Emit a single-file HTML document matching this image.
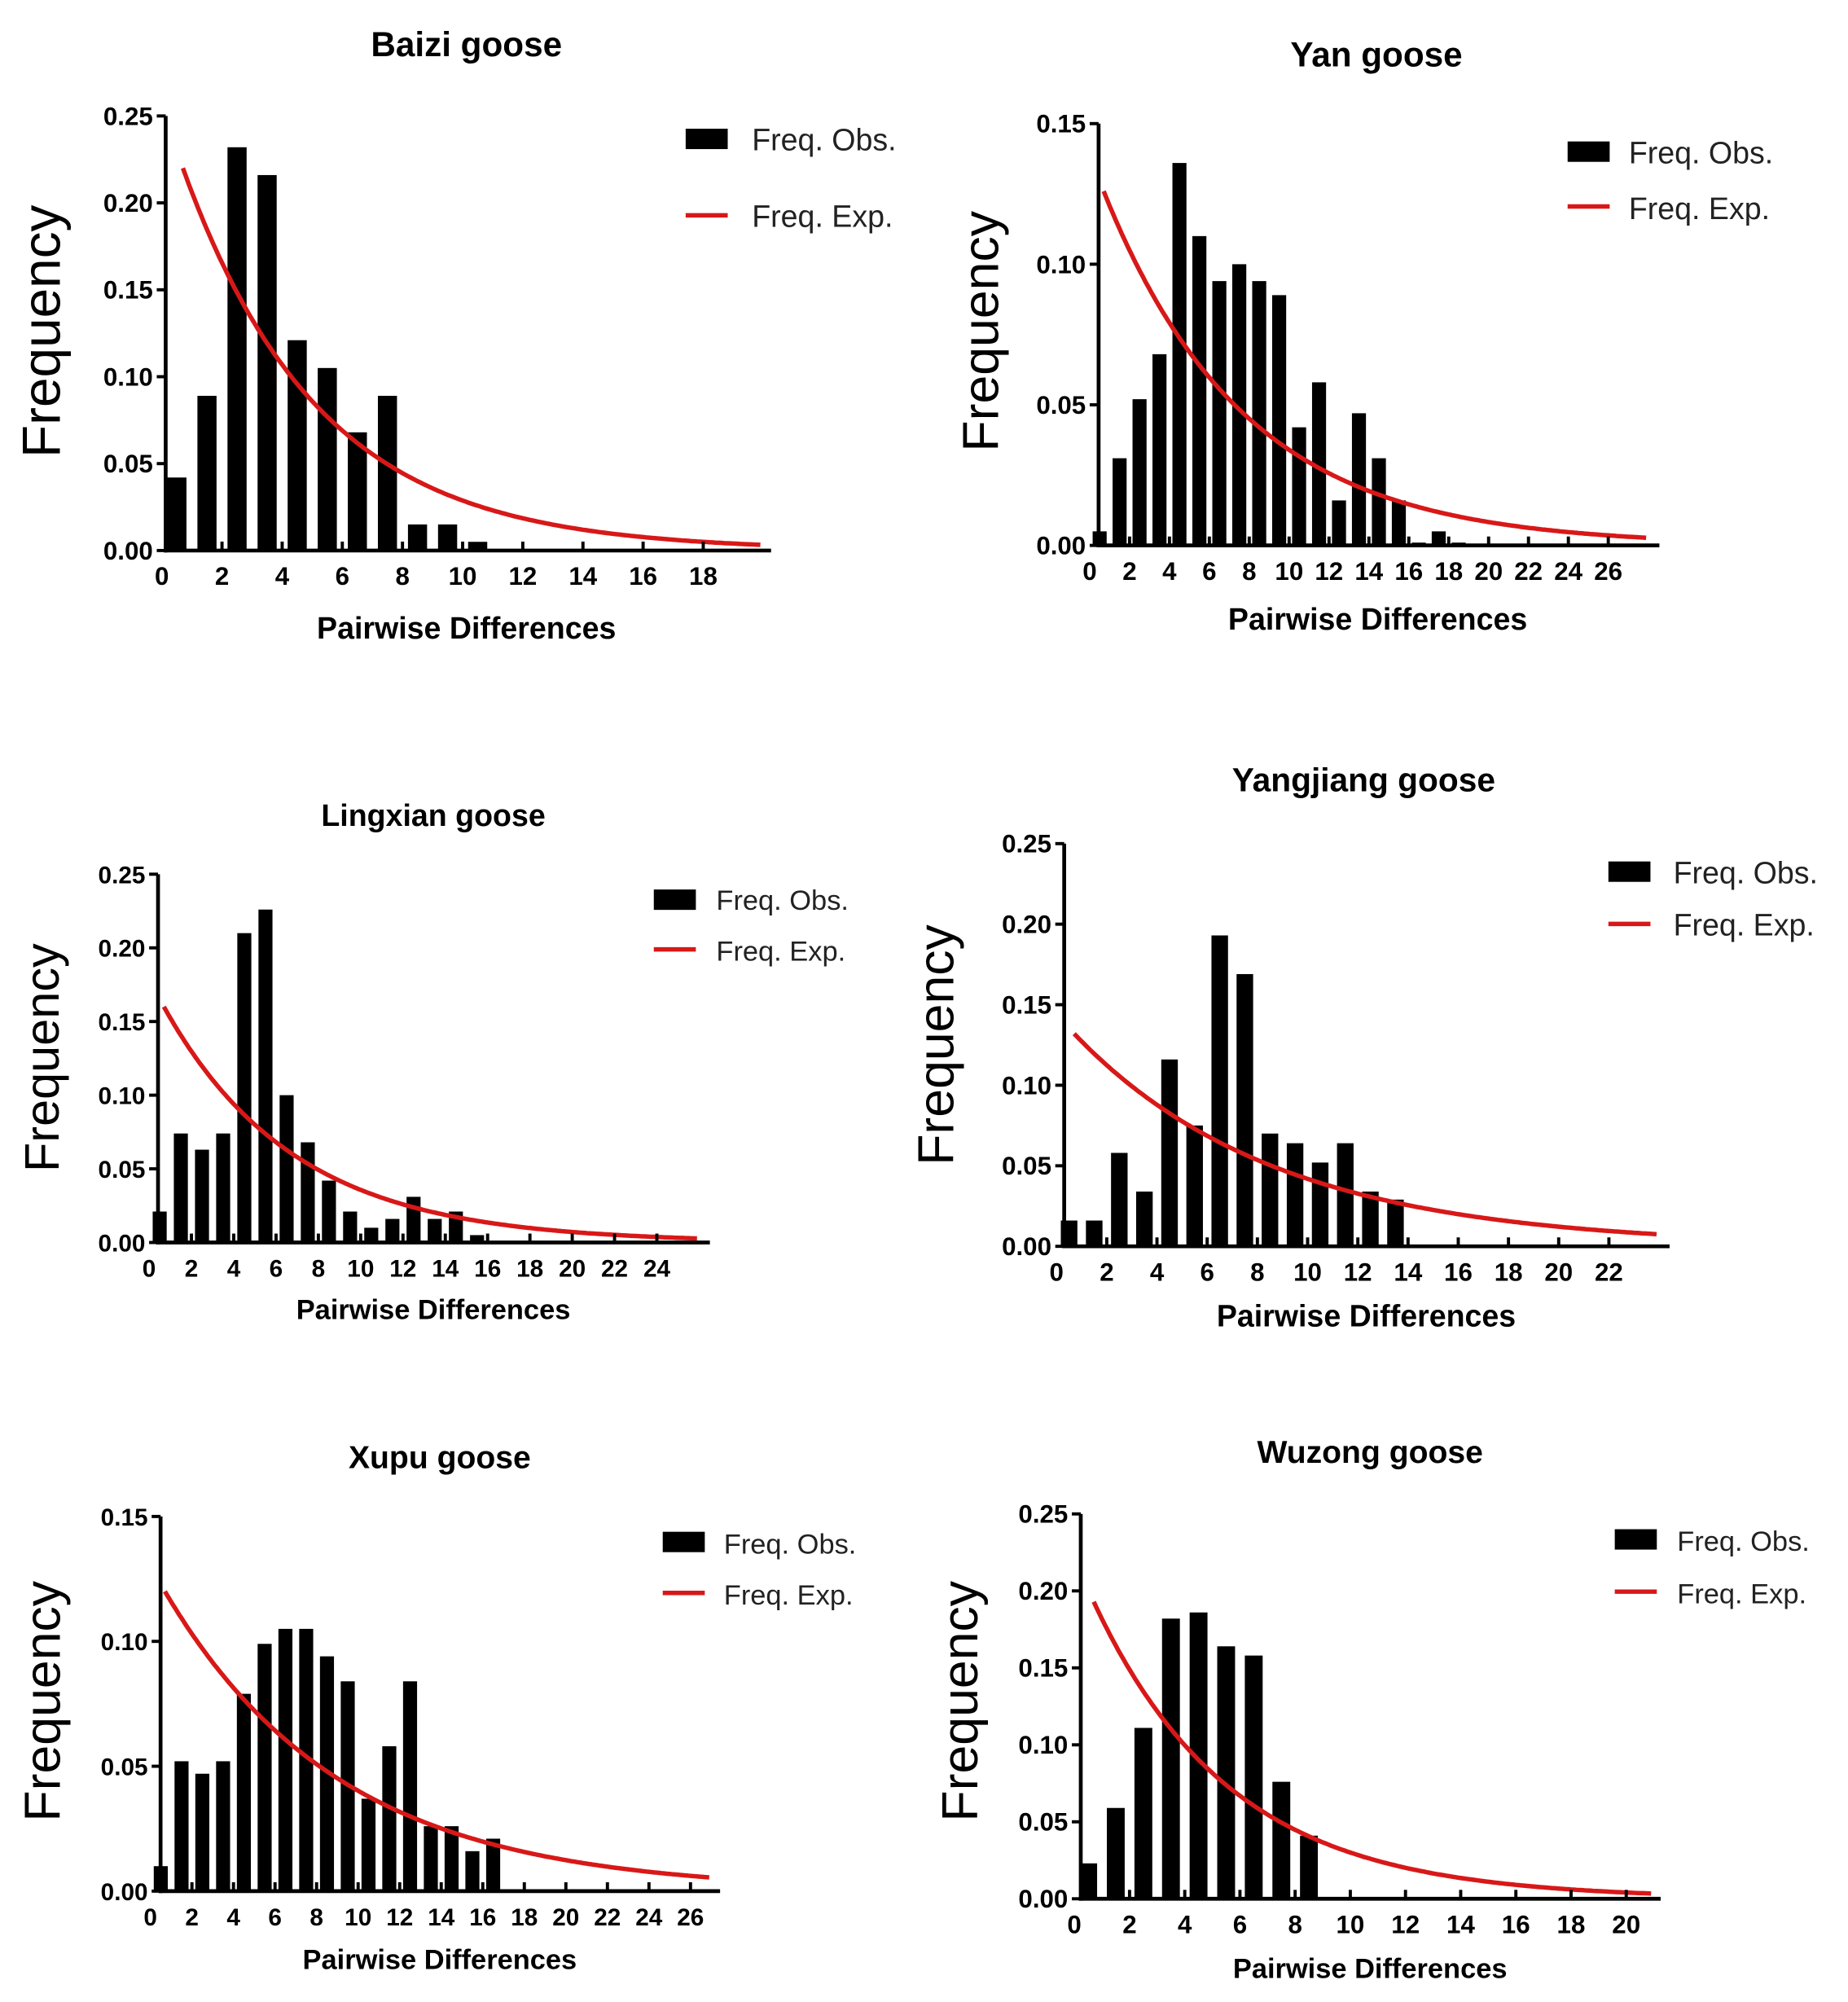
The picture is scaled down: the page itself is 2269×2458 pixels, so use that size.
<!DOCTYPE html>
<html><head><meta charset="utf-8"><style>
html,body{margin:0;padding:0;background:#fff;}
svg{display:block;}
text{font-family:"Liberation Sans",sans-serif;}
</style></head><body>
<svg id="s" width="2269" height="2458" viewBox="0 0 1450 1571" preserveAspectRatio="none" xmlns="http://www.w3.org/2000/svg"></svg>
<script>
const P=[
{title:"Baizi goose",tx:366,ty:44,tfs:27,ax:130,top:91,bot:432,xend:605,ymax:0.25,ystep:0.05,x0:127,unit:23.6,xmax:18,bw:15,
 bars:[.042,.089,.232,.216,.121,.105,.068,.089,.015,.015,.005],a:.22,t:4.57,cend:20,
 lb:[538,101],lt:590,ly1:118,ly2:169,lt2:178,lfs:24,fx:47,fy:260,ffs:42,xlx:366,xly:501,xlfs:24,tfs2:20},
{title:"Yan goose",tx:1080,ty:52,tfs:27,ax:862,top:97,bot:428,xend:1302,ymax:0.15,ystep:0.05,x0:855,unit:15.65,xmax:26,bw:11,
 bars:[.005,.031,.052,.068,.136,.110,.094,.100,.094,.089,.042,.058,.016,.047,.031,.016,.001,.005,.001],a:.126,t:7.1,cend:28,
 lb:[1230,111],lt:1278,ly1:128,ly2:162,lt2:172,lfs:24,fx:783,fy:260,ffs:40,xlx:1081,xly:494,xlfs:24,tfs2:20},
{title:"Lingxian goose",tx:340,ty:648,tfs:24,ax:124,top:686,bot:975,xend:557,ymax:0.25,ystep:0.05,x0:117,unit:16.6,xmax:24,bw:11,
 bars:[.021,.074,.063,.074,.210,.226,.100,.068,.042,.021,.010,.016,.031,.016,.021,.005],a:.16,t:6.2,cend:26,
 lb:[513,698],lt:562,ly1:714,ly2:745,lt2:754,lfs:22,fx:46,fy:830,ffs:38,xlx:340,xly:1035,xlfs:22,tfs2:19},
{title:"Yangjiang goose",tx:1070,ty:621,tfs:26,ax:835,top:662,bot:978,xend:1310,ymax:0.25,ystep:0.05,x0:829,unit:19.7,xmax:22,bw:13,
 bars:[.016,.016,.058,.034,.116,.075,.193,.169,.070,.064,.052,.064,.034,.029],a:.132,t:8.1,cend:24,
 lb:[1262,676],lt:1313,ly1:693,ly2:725,lt2:734,lfs:24,fx:748,fy:820,ffs:40,xlx:1072,xly:1041,xlfs:24,tfs2:20},
{title:"Xupu goose",tx:345,ty:1152,tfs:25,ax:126,top:1190,bot:1484,xend:565,ymax:0.15,ystep:0.05,x0:118,unit:16.3,xmax:26,bw:11,
 bars:[.010,.052,.047,.052,.079,.099,.105,.105,.094,.084,.037,.058,.084,.026,.026,.016,.021],a:.12,t:8.5,cend:27,
 lb:[520,1202],lt:568,ly1:1219,ly2:1250,lt2:1259,lfs:22,fx:47,fy:1335,ffs:40,xlx:345,xly:1545,xlfs:22,tfs2:19},
{title:"Wuzong goose",tx:1075,ty:1148,tfs:25,ax:848,top:1188,bot:1490,xend:1303,ymax:0.25,ystep:0.05,x0:843,unit:21.65,xmax:20,bw:14,
 bars:[.023,.059,.111,.182,.186,.164,.158,.076,.041],a:.193,t:5.0,cend:21,
 lb:[1267,1200],lt:1316,ly1:1217,ly2:1249,lt2:1258,lfs:22,fx:767,fy:1335,ffs:40,xlx:1075,xly:1552,xlfs:22,tfs2:20}
];
let h='';
for(const p of P){
 const Y=v=>p.bot-(v/p.ymax)*(p.bot-p.top), X=v=>p.x0+v*p.unit;
 h+=`<text x="${p.tx}" y="${p.ty}" font-size="${p.tfs}" font-weight="bold" text-anchor="middle">${p.title}</text>`;
 p.bars.forEach((v,i)=>{const c=X(i+0.5);h+=`<rect x="${c-p.bw/2}" y="${Y(v)}" width="${p.bw}" height="${p.bot-Y(v)}" fill="#000"/>`;});
 let d='';for(let x=0.7;x<=p.cend;x+=0.1){d+=(d?'L':'M')+X(x).toFixed(1)+','+Y(p.a*Math.exp(-(x-0.7)/p.t)).toFixed(1);}
 h+=`<path d="${d}" fill="none" stroke="#d81818" stroke-width="3.5"/>`;
 h+=`<line x1="${p.ax}" y1="${p.top}" x2="${p.ax}" y2="${p.bot+1.5}" stroke="#000" stroke-width="3"/>`;
 h+=`<line x1="${p.ax-1.5}" y1="${p.bot}" x2="${p.xend}" y2="${p.bot}" stroke="#000" stroke-width="3"/>`;
 for(let v=0;v<=p.ymax+1e-9;v+=p.ystep){const y=Y(v);
  h+=`<line x1="${p.ax-7}" y1="${y}" x2="${p.ax}" y2="${y}" stroke="#000" stroke-width="2.5"/>`;
  h+=`<text x="${p.ax-10}" y="${y+7}" font-size="${p.tfs2}" font-weight="bold" text-anchor="end">${v.toFixed(2)}</text>`;}
 for(let v=0;v<=p.xmax;v+=2){const x=X(v);
  if(v>0)h+=`<line x1="${x}" y1="${p.bot}" x2="${x}" y2="${p.bot-7}" stroke="#000" stroke-width="2.5"/>`;
  h+=`<text x="${x}" y="${p.bot+27}" font-size="${p.tfs2}" font-weight="bold" text-anchor="middle">${v}</text>`;}
 h+=`<rect x="${p.lb[0]}" y="${p.lb[1]}" width="33" height="16" fill="#000"/>`;
 h+=`<text x="${p.lt}" y="${p.ly1}" font-size="${p.lfs}" fill="#222">Freq. Obs.</text>`;
 h+=`<line x1="${p.lb[0]}" y1="${p.ly2}" x2="${p.lb[0]+33}" y2="${p.ly2}" stroke="#d81818" stroke-width="3.5"/>`;
 h+=`<text x="${p.lt}" y="${p.lt2}" font-size="${p.lfs}" fill="#222">Freq. Exp.</text>`;
 h+=`<text transform="translate(${p.fx},${p.fy}) rotate(-90)" font-size="${p.ffs}" text-anchor="middle">Frequency</text>`;
 h+=`<text x="${p.xlx}" y="${p.xly}" font-size="${p.xlfs}" font-weight="bold" text-anchor="middle">Pairwise Differences</text>`;
}
document.getElementById('s').innerHTML=h;
</script>
</body></html>
